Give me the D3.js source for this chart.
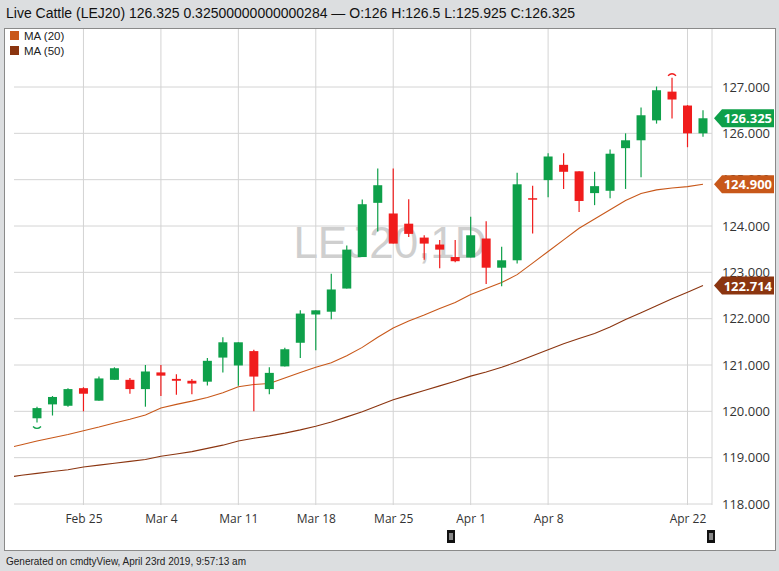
<!DOCTYPE html>
<html><head><meta charset="utf-8">
<script src="https://cdn.jsdelivr.net/npm/d3@7"></script>
<style>body{margin:0;background:#dcdee0;}svg{display:block;font-family:"Open Sans","Liberation Sans",sans-serif;}</style>
</head><body><svg id="c" width="779" height="571"></svg>
<script>
const dates=["Feb 20","Feb 21","Feb 22","Feb 25","Feb 26","Feb 27","Feb 28","Mar 1","Mar 4","Mar 5","Mar 6","Mar 7","Mar 8","Mar 11","Mar 12","Mar 13","Mar 14","Mar 15","Mar 18","Mar 19","Mar 20","Mar 21","Mar 22","Mar 25","Mar 26","Mar 27","Mar 28","Mar 29","Apr 1","Apr 2","Apr 3","Apr 4","Apr 5","Apr 8","Apr 9","Apr 10","Apr 11","Apr 12","Apr 15","Apr 16","Apr 17","Apr 18","Apr 22","Apr 23"];
const open=[119.85,120.15,120.12,120.5,120.23,120.68,120.68,120.48,120.84,120.70,120.66,120.64,121.16,120.99,121.30,120.48,120.97,121.48,122.09,122.15,122.65,123.33,124.50,124.27,124.05,123.75,123.60,123.33,123.32,123.73,123.10,123.26,124.60,124.99,125.32,125.18,124.71,124.76,125.68,125.85,126.28,126.90,126.60,126.00];
const high=[120.10,120.33,120.50,120.52,120.75,120.95,120.72,121.00,121.00,120.80,120.70,121.15,121.60,121.49,121.33,120.95,121.37,122.18,122.18,122.97,123.58,124.57,125.24,125.24,124.58,123.80,123.70,123.70,124.20,124.10,123.55,125.15,124.87,125.57,125.57,125.18,125.17,125.65,126.00,126.56,127.01,127.20,126.61,126.50];
const low=[119.76,119.91,120.10,120.00,120.23,120.68,120.38,120.10,120.33,120.36,120.37,120.56,120.84,120.55,120.00,120.37,120.97,121.15,121.32,121.99,122.65,123.33,123.88,123.62,123.76,123.27,123.09,123.22,123.32,122.75,122.70,123.19,123.84,124.62,124.80,124.30,124.45,124.60,124.80,125.05,126.21,126.32,125.70,125.925];
const close=[120.07,120.31,120.48,120.38,120.71,120.93,120.48,120.86,120.77,120.66,120.60,121.09,121.49,121.49,120.75,120.83,121.34,122.11,122.18,122.63,123.49,124.47,124.88,123.62,123.83,123.62,123.49,123.24,123.80,123.10,123.26,124.90,124.60,125.50,125.17,124.54,124.86,125.56,125.85,126.39,126.93,126.73,126.00,126.325];
const ma20=[119.20,119.28,119.36,119.43,119.50,119.58,119.66,119.75,119.83,119.92,120.07,120.15,120.22,120.30,120.40,120.53,120.58,120.60,120.72,120.84,120.95,121.05,121.20,121.38,121.60,121.80,121.95,122.08,122.22,122.35,122.52,122.65,122.78,122.95,123.20,123.45,123.70,123.95,124.15,124.35,124.55,124.70,124.78,124.82,124.85,124.90];
const ma50=[118.57,118.62,118.66,118.70,118.74,118.80,118.84,118.88,118.92,118.96,119.03,119.08,119.13,119.20,119.27,119.36,119.42,119.47,119.53,119.60,119.68,119.77,119.88,119.99,120.12,120.25,120.35,120.45,120.55,120.65,120.76,120.85,120.95,121.07,121.20,121.33,121.46,121.57,121.68,121.82,121.98,122.13,122.28,122.43,122.57,122.714];
const yTicks=[118,119,120,121,122,123,124,125,126,127];
const xTickLabels=["Feb 25","Mar 4","Mar 11","Mar 18","Mar 25","Apr 1","Apr 8","Apr 22"];

const svg=d3.select("#c");
const L=14,R=712,T=29,B=505;
const x=d3.scaleLinear().domain([0,43]).range([37,703]);
const y=d3.scaleLinear().domain([118,127]).range([504,87]);
const up="#0ea04a",dn="#f01c1c",c20="#c8581a",c50="#8b3510";

svg.append("rect").attr("x",0).attr("y",0).attr("width",779).attr("height",571).attr("fill","#dcdee0");
svg.append("rect").attr("x",4.5).attr("y",28.5).attr("width",771).attr("height",522).attr("fill","#fff").attr("stroke","#8a8a8a");
svg.append("text").attr("x",6).attr("y",18).attr("font-size",14).attr("fill","#111").attr("font-family","Liberation Sans,Arial,sans-serif")
 .text("Live Cattle (LEJ20) 126.325 0.32500000000000284 — O:126 H:126.5 L:125.925 C:126.325");

// grid
const g=svg.append("g");
g.selectAll(".hg").data(yTicks).join("line").attr("x1",L).attr("x2",R).attr("y1",d=>y(d)).attr("y2",d=>y(d)).attr("stroke","#d4d4d4");
const xi=xTickLabels.map(l=>dates.indexOf(l));
g.selectAll(".vg").data(xi).join("line").attr("x1",d=>x(d)).attr("x2",d=>x(d)).attr("y1",T).attr("y2",B).attr("stroke","#d4d4d4");
svg.append("line").attr("x1",R).attr("x2",R).attr("y1",T).attr("y2",B).attr("stroke","#d4d4d4");
// axes labels
svg.append("g").attr("transform",`translate(0,${B})`).call(d3.axisBottom(x).tickValues(xi).tickFormat(i=>dates[i]).tickSize(0).tickPadding(9))
 .call(a=>a.select(".domain").remove()).selectAll("text").attr("font-size",12).attr("fill","#333").attr("font-family","Open Sans,sans-serif");
svg.append("g").attr("transform",`translate(${R+58},0)`).call(d3.axisLeft(y).tickValues(yTicks).tickFormat(d3.format(".3f")).tickSize(0).tickPadding(0))
 .call(a=>a.select(".domain").remove()).selectAll("text").attr("font-size",13).attr("fill","#333").attr("font-family","Open Sans,sans-serif");

// watermark
svg.append("text").attr("x",390).attr("y",258).attr("text-anchor","middle").attr("font-size",44).attr("fill","#cfcfcf").attr("font-family","Liberation Sans,Arial,sans-serif").text("LEJ20,1D");

// MA lines
const clip=svg.append("clipPath").attr("id","cl").append("rect").attr("x",L).attr("y",T).attr("width",R-L).attr("height",B-T);
const ln=d3.line().x((d,i)=>x(i-2)).y(d=>y(d));
svg.append("path").attr("clip-path","url(#cl)").attr("d",ln(ma20)).attr("fill","none").attr("stroke",c20).attr("stroke-width",1.1);
svg.append("path").attr("clip-path","url(#cl)").attr("d",ln(ma50)).attr("fill","none").attr("stroke",c50).attr("stroke-width",1.1);

// candles
const idx=d3.range(dates.length);
const cg=svg.append("g");
cg.selectAll(".w").data(idx).join("line").attr("x1",i=>x(i)).attr("x2",i=>x(i)).attr("y1",i=>y(high[i])).attr("y2",i=>y(low[i]))
 .attr("stroke",i=>close[i]>open[i]?up:dn).attr("stroke-width",1.2);
cg.selectAll(".b").data(idx).join("rect").attr("x",i=>x(i)-4.5).attr("width",9)
 .attr("y",i=>y(Math.max(open[i],close[i]))).attr("height",i=>Math.max(1.5,Math.abs(y(open[i])-y(close[i]))))
 .attr("fill",i=>close[i]>open[i]?up:dn);
// low/high marks
svg.append("path").attr("d",`M${x(0)-4},${y(low[0])+4} Q${x(0)},${y(low[0])+8} ${x(0)+4},${y(low[0])+4}`).attr("fill","none").attr("stroke",up).attr("stroke-width",1.3);
svg.append("path").attr("d",`M${x(41)-4},${y(high[41])-2} Q${x(41)},${y(high[41])-6} ${x(41)+4},${y(high[41])-2}`).attr("fill","none").attr("stroke",dn).attr("stroke-width",1.3);

// price tags
function tag(v,col,txt){
 const yy=y(v);
 svg.append("path").attr("d",`M${R+2},${yy} L${R+10},${yy-9} L${R+62},${yy-9} L${R+62},${yy+9} L${R+10},${yy+9} Z`).attr("fill",col);
 svg.append("text").attr("x",R+60).attr("y",yy+5).attr("text-anchor","end").attr("font-size",13).attr("font-weight","bold").attr("fill","#fff").attr("font-family","Open Sans,sans-serif").text(txt);
}
tag(close[43],up,"126.325");
tag(ma20[ma20.length-1],c20,"124.900");
tag(ma50[ma50.length-1],c50,"122.714");

// legend
[[c20,"MA (20)",40],[c50,"MA (50)",55]].forEach(([c,t,yy])=>{
 svg.append("rect").attr("x",10).attr("y",yy-9).attr("width",9).attr("height",9).attr("fill",c);
 svg.append("text").attr("x",24).attr("y",yy).attr("font-size",11.5).attr("fill","#222").attr("font-family","Liberation Sans,Arial,sans-serif").text(t);
});
// handles
[451,711].forEach(hx=>{
 svg.append("rect").attr("x",hx-4).attr("y",530).attr("width",8).attr("height",13).attr("fill","#111");
 svg.append("line").attr("x1",hx-1).attr("x2",hx-1).attr("y1",533).attr("y2",540).attr("stroke","#fff");
 svg.append("line").attr("x1",hx+1).attr("x2",hx+1).attr("y1",533).attr("y2",540).attr("stroke","#fff");
});
svg.append("text").attr("x",6).attr("y",565).attr("font-size",10).attr("fill","#222").attr("font-family","Liberation Sans,Arial,sans-serif").text("Generated on cmdtyView, April 23rd 2019, 9:57:13 am");
</script></body></html>
